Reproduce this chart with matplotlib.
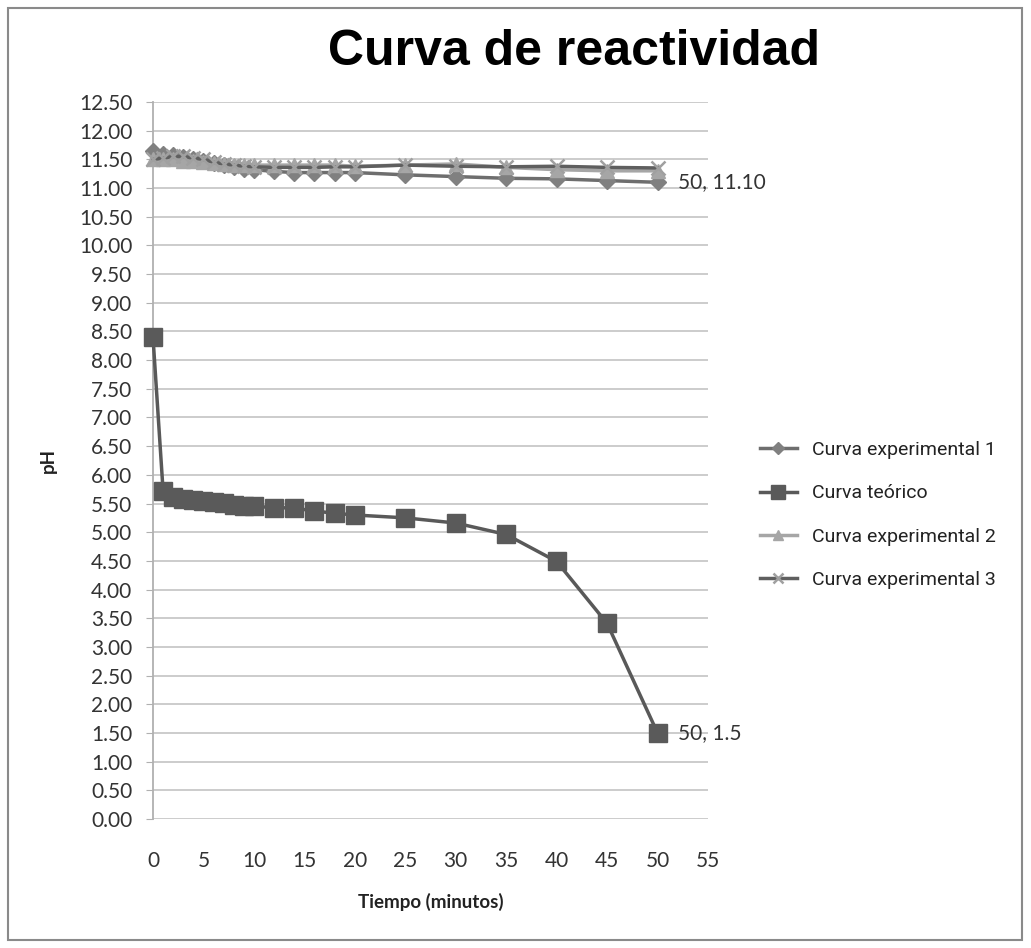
import matplotlib
matplotlib.use("Agg")
import matplotlib.pyplot as plt
from matplotlib.patches import Rectangle

# tiempo (minutos)
tiempo = [0, 1, 2, 3, 4, 5, 6, 7, 8, 9, 10, 12, 14, 16, 18, 20, 25, 30, 35, 40, 45, 50]

# pH
exp1 = [11.65, 11.60, 11.57, 11.54, 11.51, 11.47, 11.43, 11.40, 11.37, 11.34, 11.32,
        11.29, 11.27, 11.27, 11.27, 11.27, 11.23, 11.20, 11.17, 11.16, 11.13, 11.10]
teorico = [8.40, 5.72, 5.62, 5.58, 5.56, 5.55, 5.53, 5.51, 5.48, 5.46, 5.45,
           5.43, 5.42, 5.37, 5.33, 5.30, 5.25, 5.16, 4.96, 4.49, 3.41, 1.50]
exp2 = [11.50, 11.50, 11.50, 11.48, 11.47, 11.45, 11.43, 11.42, 11.40, 11.40, 11.40,
        11.40, 11.40, 11.40, 11.40, 11.38, 11.40, 11.42, 11.36, 11.32, 11.30, 11.30]
exp3 = [11.50, 11.52, 11.55, 11.55, 11.52, 11.50, 11.45, 11.42, 11.40, 11.38, 11.37,
        11.36, 11.36, 11.36, 11.37, 11.37, 11.40, 11.38, 11.37, 11.38, 11.36, 11.35]

yticks = [i * 0.5 for i in range(26)]
xticks = list(range(0, 56, 5))

fig = plt.figure(figsize=(10.31, 9.48), dpi=100)
fig.patch.set_facecolor("white")
fig.patches.append(Rectangle((8 / 1031, 8 / 948), 1014 / 1031, 932 / 948,
                             transform=fig.transFigure, fill=False,
                             edgecolor="#8a8a8a", linewidth=1.5))

ax = fig.add_axes([153 / 1031, 1 - 819 / 948, 555 / 1031, 717 / 948])

ax.plot(tiempo, exp1, color="#6e6e6e", lw=2.5, marker="D", ms=8,
        mfc="#808080", mec="#808080", label="Curva experimental 1", zorder=3,
        clip_on=False)
ax.plot(tiempo, teorico, color="#595959", lw=2.5, marker="s", ms=13,
        mfc="#5a5a5a", mec="#5a5a5a", label="Curva teórico", zorder=4,
        clip_on=False)
ax.plot(tiempo, exp2, color="#a6a6a6", lw=2.5, marker="^", ms=10,
        mfc="#a6a6a6", mec="#a6a6a6", label="Curva experimental 2", zorder=5,
        clip_on=False)
ax.plot(tiempo, exp3, color="#5f5f5f", lw=2.5, marker="x", ms=10, mew=1.8,
        mec="#a0a0a0", label="Curva experimental 3", zorder=6, clip_on=False)

ax.set_xlim(0, 55)
ax.set_ylim(0, 12.5)
ax.set_xticks(xticks)
ax.set_yticks(yticks)
ax.set_yticklabels(["%.2f" % v for v in yticks])
ax.yaxis.grid(True, color="#c8c8c8", lw=1.3)
ax.set_axisbelow(True)
for s in ["top", "right", "bottom"]:
    ax.spines[s].set_visible(False)
ax.spines["left"].set_color("#b0b0b0")
ax.spines["left"].set_linewidth(1.3)
ax.tick_params(axis="y", colors="#b0b0b0", length=5, labelcolor="#333333",
               labelsize=15, pad=10)
ax.tick_params(axis="x", length=0, labelcolor="#333333", labelsize=15, pad=23)
for lab in ax.get_xticklabels() + ax.get_yticklabels():
    lab.set_family(["Lato", "DejaVu Sans"])

ax.set_xlabel("Tiempo (minutos)", fontsize=13.5, fontweight="bold",
              family=["Lato", "DejaVu Sans"], color="#222222", labelpad=16)
ax.set_ylabel("pH", fontsize=13.5, fontweight="bold",
              family=["Lato", "DejaVu Sans"], color="#222222", labelpad=16)

# etiquetas de datos en el ultimo punto
ax.annotate("%d, %.2f" % (tiempo[-1], exp1[-1]), (tiempo[-1], exp1[-1]),
            xytext=(15, 0), textcoords="offset points", va="center",
            fontsize=15, color="#333333", family=["Lato", "DejaVu Sans"])
ax.annotate("%d, %.1f" % (tiempo[-1], teorico[-1]), (tiempo[-1], teorico[-1]),
            xytext=(15, 0), textcoords="offset points", va="center",
            fontsize=15, color="#333333", family=["Lato", "DejaVu Sans"])

fig.text(574 / 1031, 1 - 52 / 948, "Curva de reactividad", ha="center",
         va="center", fontsize=36, fontweight="bold",
         family=["Liberation Sans", "DejaVu Sans"], color="black")

leg = ax.legend(loc="center left", bbox_to_anchor=(1.062, 0.424), frameon=False,
                prop={"family": ["Roboto", "Liberation Sans"], "size": 14,
                      "stretch": "condensed"},
                handlelength=1.9, labelspacing=1.3, handletextpad=0.8,
                markerscale=0.75)
for t in leg.get_texts():
    t.set_color("#222222")

fig.savefig("out.png", dpi=100, facecolor="white")
